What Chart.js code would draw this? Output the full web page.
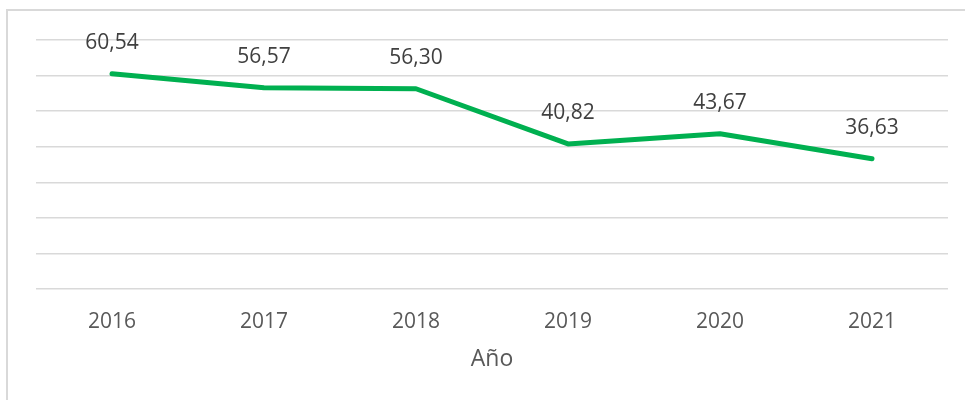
<!DOCTYPE html>
<html>
<head>
<meta charset="utf-8">
<script src="https://cdn.jsdelivr.net/npm/chart.js@4/dist/chart.umd.min.js"></script>
<style>
	body { margin: 0; background: #ffffff; overflow: hidden; }
	#wrap { position: relative; width: 965px; height: 400px; }
	#frame { position: absolute; left: 6px; top: 9px; width: 1000px; height: 420px; border: 2px solid #d9d9d9; box-sizing: border-box; }
	#chart { position: absolute; left: 0; top: 0; }
</style>
</head>
<body>
<div id="wrap">
	<div id="frame"></div>
	<canvas id="chart" width="965" height="400"></canvas>
</div>
<script>
var years = ['2016', '2017', '2018', '2019', '2020', '2021'];
var values = [60.54, 56.57, 56.30, 40.82, 43.67, 36.63];
var axisTitle = 'Año';

var fontFamily = "'Open Sans', 'Liberation Sans', sans-serif";

// draws the value above each point, with a decimal comma
var valueLabels = {
	id: 'valueLabels',
	afterDatasetsDraw: function(chart)
	{
		var ctx = chart.ctx;
		var meta = chart.getDatasetMeta(0);
		ctx.save();
		ctx.font = '21px ' + fontFamily;
		ctx.fillStyle = '#404040';
		ctx.textAlign = 'center';
		ctx.textBaseline = 'middle';
		for(var i = 0; i < meta.data.length; i++)
		{
			var pt = meta.data[i];
			ctx.fillText(values[i].toFixed(2).replace('.', ','), pt.x, pt.y - 31);
		}
		ctx.restore();
	}
};

var createdChart = new Chart(document.getElementById('chart'), {
	type: 'line',
	data: {
		labels: years,
		datasets: [{
			data: values,
			borderColor: '#00b050',
			borderWidth: 5,
			pointRadius: 0,
			tension: 0,
			borderCapStyle: 'round',
			borderJoinStyle: 'round'
		}]
	},
	options: {
		responsive: false,
		maintainAspectRatio: false,
		animation: false,
		layout: {
			padding: { left: 36, right: 17, top: 40, bottom: 27 }
		},
		plugins: {
			legend: { display: false },
			tooltip: { enabled: false }
		},
		scales: {
			x: {
				offset: true,
				grid: { display: false },
				border: { display: false },
				ticks: {
					color: '#595959',
					padding: 12,
					font: { family: fontFamily, size: 21 }
				},
				title: {
					display: true,
					text: axisTitle,
					color: '#595959',
					padding: { top: -1, bottom: 0 },
					font: { family: fontFamily, size: 23 }
				}
			},
			y: {
				min: 0,
				max: 70,
				ticks: { display: false, stepSize: 10 },
				border: { display: false },
				grid: { color: '#d9d9d9', lineWidth: 1.5, drawTicks: false }
			}
		}
	},
	plugins: [valueLabels]
});
</script>
</body>
</html>
